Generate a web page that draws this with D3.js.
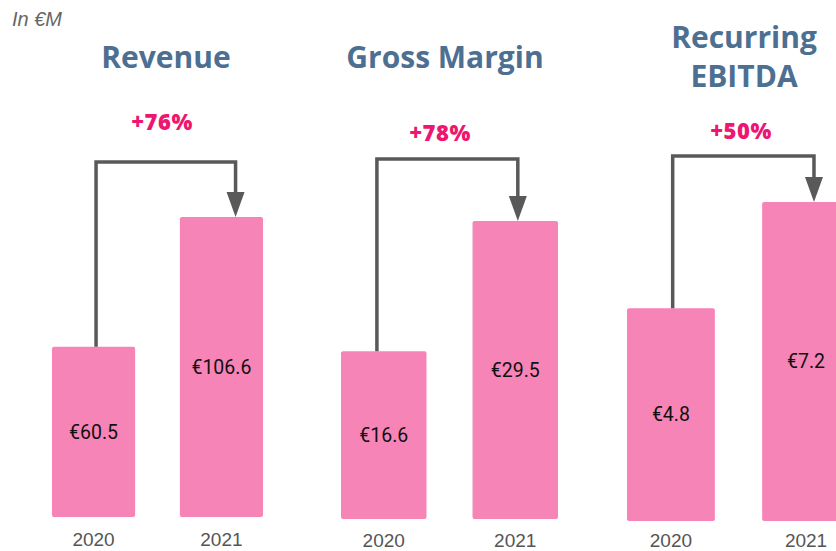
<!DOCTYPE html>
<html>
<head>
<meta charset="utf-8">
<script src="https://cdn.jsdelivr.net/npm/d3@7"></script>
<style>
  body { margin: 0; background: #fff; }
  svg { display: block; }
</style>
</head>
<body>
<svg id="chart" width="836" height="551"></svg>
<script>
// values, in €M
const years = ['2020', '2021']
const metrics = [['Revenue'], ['Gross Margin'], ['Recurring', 'EBITDA']]
const values2020 = [60.5, 16.6, 4.8]
const values2021 = [106.6, 29.5, 7.2]
const growth = ['+76%', '+78%', '+50%']

// where each little panel sits
const layout = [
  { x: [52, 263], base: 517, top: 217, bracket: 162, left: 0.53, right: 0.67, titleX: 166, titleY: 68, pctX: 162, pctY: 130, yearY: 546 },
  { x: [341, 558], base: 519, top: 221, bracket: 159, left: 0.42, right: 0.53, titleX: 445, titleY: 68, pctX: 440, pctY: 141, yearY: 547 },
  { x: [627, 850], base: 521, top: 202, bracket: 156, left: 0.52, right: 0.59, titleX: 744, titleY: 48, pctX: 741, pctY: 139, yearY: 547 }
]

const pink = '#f784b7'
const grey = '#595959'

const svg = d3.select('svg#chart')

svg.append('text')
  .attr('x', 12).attr('y', 26)
  .attr('font-family', '"Liberation Sans", Arial, sans-serif')
  .attr('font-style', 'italic')
  .attr('font-size', 20)
  .attr('fill', '#666')
  .text('In €M')

metrics.forEach((title, i) => {
  const L = layout[i]
  const data = [
    { year: years[0], value: values2020[i] },
    { year: years[1], value: values2021[i] }
  ]
  const x = d3.scaleBand().domain(years).range(L.x).paddingInner(0.35).paddingOuter(0)
  const y = d3.scaleLinear().domain([0, values2021[i]]).range([L.base, L.top])
  const g = svg.append('g')

  // title, one or two lines
  g.append('text')
    .attr('x', L.titleX).attr('y', L.titleY)
    .attr('text-anchor', 'middle')
    .attr('font-family', '"Open Sans", sans-serif')
    .attr('font-weight', 700)
    .attr('font-size', 30)
    .attr('fill', '#4d6f91')
    .selectAll('tspan')
    .data(title)
    .enter().append('tspan')
    .attr('x', L.titleX)
    .attr('dy', (d, j) => j ? 39 : 0)
    .text(d => d)

  g.selectAll('rect')
    .data(data)
    .enter().append('rect')
    .attr('x', d => x(d.year))
    .attr('y', d => y(d.value))
    .attr('width', x.bandwidth())
    .attr('height', d => y(0) - y(d.value))
    .attr('rx', 2)
    .attr('fill', pink)

  g.selectAll('text.val')
    .data(data)
    .enter().append('text')
    .attr('class', 'val')
    .attr('x', d => x(d.year) + x.bandwidth() / 2)
    .attr('y', d => (y(d.value) + y(0)) / 2)
    .attr('dy', '0.35em')
    .attr('text-anchor', 'middle')
    .attr('font-family', 'Roboto, sans-serif')
    .attr('font-size', 19.5)
    .attr('fill', '#111')
    .text(d => '€' + d.value)

  g.selectAll('text.year')
    .data(data)
    .enter().append('text')
    .attr('class', 'year')
    .attr('x', d => x(d.year) + x.bandwidth() / 2)
    .attr('y', L.yearY)
    .attr('text-anchor', 'middle')
    .attr('font-family', '"Liberation Sans", Arial, sans-serif')
    .attr('font-size', 19)
    .attr('fill', '#555')
    .text(d => d.year)

  // growth bracket
  const x0 = x(years[0]) + x.bandwidth() * L.left
  const x1 = x(years[1]) + x.bandwidth() * L.right
  const tip = y(values2021[i])
  const head = 25
  g.append('path')
    .attr('d', `M${x0},${y(values2020[i])}V${L.bracket}H${x1}V${tip - head + 2}`)
    .attr('fill', 'none')
    .attr('stroke', grey)
    .attr('stroke-width', 3.5)
  g.append('path')
    .attr('d', `M${x1 - 9},${tip - head}L${x1 + 9},${tip - head}L${x1},${tip}Z`)
    .attr('fill', grey)

  g.append('text')
    .attr('x', L.pctX).attr('y', L.pctY)
    .attr('text-anchor', 'middle')
    .attr('font-family', '"Open Sans", sans-serif')
    .attr('font-weight', 800)
    .attr('font-size', 22)
    .attr('letter-spacing', 0.5)
    .attr('fill', '#ee1670')
    .text(growth[i])
})
</script>
</body>
</html>
